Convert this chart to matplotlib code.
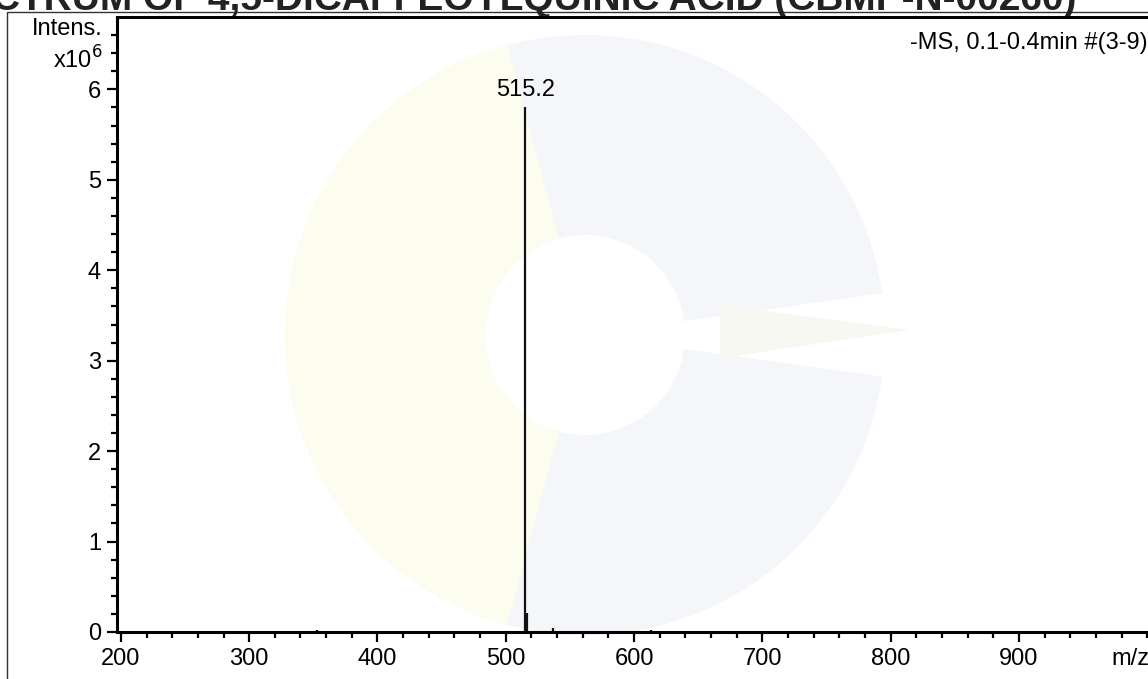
import numpy as np
import matplotlib.pyplot as plt
from matplotlib.patches import Wedge, Rectangle, Polygon

# peak list (m/z, intensity in 1e6 counts)
mz = [353.1, 515.2, 516.2, 537.1, 613.1]
intensity = [0.02, 5.81, 0.21, 0.04, 0.02]
base_label = "515.2"

x_ticks = [200, 300, 400, 500, 600, 700, 800, 900]
y_ticks = [0, 1, 2, 3, 4, 5, 6]

plt.rcParams['font.family'] = ['Liberation Sans', 'DejaVu Sans']
FS = 17

fig = plt.figure(figsize=(11.48, 6.79), dpi=100)
W, H = 1148, 679

# faint logo watermark behind the plot (figure pixel coords)
bg = fig.add_axes([0, 0, 1, 1], zorder=0)
bg.set_xlim(0, W)
bg.set_ylim(H, 0)
bg.axis('off')
cx, cy = 585, 335
bg.add_patch(Wedge((cx, cy), 300, 190, 352, width=200, color='#f4f6f9', lw=0))
bg.add_patch(Wedge((cx, cy), 300, 8, 170, width=200, color='#f4f6f9', lw=0))
bg.add_patch(Wedge((cx, cy), 300, 105, 255, width=200, color='#fcfcef', lw=0))
bg.add_patch(Polygon([[720, 305], [910, 330], [720, 358]], closed=True, color='#f7f8f2', lw=0))
# outer frame of the page
bg.add_patch(Rectangle((7, 12), 1160, 700, fill=False, ec='#333333', lw=1))
# cut-off heading at the top of the page
bg.text(-8, 10, "CTRUM OF 4,5-DICAFFEOYLQUINIC ACID (CBMP-N-00260)", fontsize=28,
        fontweight='bold', va='baseline', ha='left', color='#222222')

ax = fig.add_axes([117 / W, 1 - 632 / H, (W - 117) / W, (632 - 17) / H], zorder=1)
ax.patch.set_alpha(0)

ax.vlines(mz, 0, intensity, color='#111111', lw=1.6)
top = int(np.argmax(intensity))
ax.annotate(base_label, (mz[top], intensity[top]), xytext=(0, 4), textcoords='offset points',
            ha='center', va='bottom', fontsize=FS)

ax.set_xlim(197, 1000.5)
ax.set_ylim(0, 6.8)
ax.set_xticks(x_ticks)
ax.set_xticks(np.arange(200, 1001, 20), minor=True)
ax.set_yticks(y_ticks)
ax.set_yticks(np.arange(0, 6.75, 0.2), minor=True)
ax.set_xticklabels([str(v) for v in x_ticks])
ax.set_yticklabels([str(v) for v in y_ticks])
ax.tick_params(axis='both', which='major', labelsize=FS, length=7.5, width=1.6, direction='out', pad=4)
ax.tick_params(axis='both', which='minor', length=4, width=1.6, direction='out')

for side in ['left', 'bottom', 'top']:
    ax.spines[side].set_linewidth(2.2)
ax.spines['right'].set_visible(False)

ax.annotate("m/z", (987, 0), xytext=(0, -11.5), textcoords='offset points',
            ha='center', va='top', fontsize=FS)
ax.text(1.0, 0.975, "-MS, 0.1-0.4min #(3-9)", transform=ax.transAxes, ha='right', va='top', fontsize=FS)
fig.text(103 / W, 1 - 29 / H, "Intens.", ha='right', va='center', fontsize=FS)
fig.text(103 / W, 1 - 60 / H, r"x10$^{6}$", ha='right', va='center', fontsize=FS)

fig.savefig('out.png', dpi=100)
